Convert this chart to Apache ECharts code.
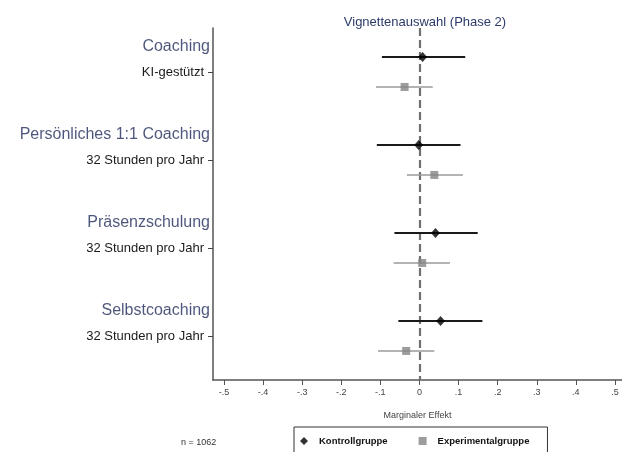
<!DOCTYPE html>
<html><head><meta charset="utf-8">
<script src="https://cdn.jsdelivr.net/npm/echarts@6/dist/echarts.min.js"></script>
<style>html,body{margin:0;padding:0;background:#fff}#c{width:622px;height:452px}</style>
</head><body><div id="c"></div>
<script>
// Groups (top to bottom)
const groups = ['Coaching', 'Persönliches 1:1 Coaching', 'Präsenzschulung', 'Selbstcoaching'];
const subLabels = ['KI-gestützt', '32 Stunden pro Jahr', '32 Stunden pro Jahr', '32 Stunden pro Jahr'];
// Kontrollgruppe: estimate, lower CI, upper CI
const kontrollEst = [0.008, -0.002, 0.041, 0.054];
const kontrollLo  = [-0.096, -0.109, -0.064, -0.054];
const kontrollHi  = [0.117, 0.105, 0.149, 0.161];
// Experimentalgruppe
const expEst = [-0.038, 0.038, 0.007, -0.034];
const expLo  = [-0.111, -0.032, -0.066, -0.106];
const expHi  = [0.034, 0.111, 0.078, 0.038];
// x ticks
const xTicks = [-0.5, -0.4, -0.3, -0.2, -0.1, 0, 0.1, 0.2, 0.3, 0.4, 0.5];
const yTicks = [1, 2, 3, 4];

const X_MIN = -0.528, X_MAX = 0.518;
const OFF = 0.17;      // vertical offset of the two groups around the tick
const HEAD_OFF = 0.284; // header offset above tick

function fmtTick(v) {
  if (v === 0) return '0';
  let s = Math.abs(v).toFixed(1).replace(/^0/, '');
  return (v < 0 ? '-' : '') + s;
}

const kData = kontrollEst.map((v, i) => [v, yTicks[i] - OFF]);
const eData = expEst.map((v, i) => [v, yTicks[i] + OFF]);
const kBars = kontrollLo.map((v, i) => [v, kontrollHi[i], yTicks[i] - OFF]);
const eBars = expLo.map((v, i) => [v, expHi[i], yTicks[i] + OFF]);
const headData = groups.map((g, i) => ({ value: [X_MIN, yTicks[i] - HEAD_OFF], name: g }));

function barRenderer(color, width) {
  return function (params, api) {
    const p1 = api.coord([api.value(0), api.value(2)]);
    const p2 = api.coord([api.value(1), api.value(2)]);
    return { type: 'line', shape: { x1: p1[0], y1: p1[1], x2: p2[0], y2: p2[1] },
      style: { stroke: color, lineWidth: width } };
  };
}

const chart = echarts.init(document.getElementById('c'), null, { renderer: 'canvas' });
chart.setOption({
  animation: false,
  backgroundColor: '#fff',
  textStyle: { fontFamily: 'Liberation Sans, Arial, sans-serif' },
  title: {
    text: 'Vignettenauswahl (Phase 2)', left: 420, top: 11, textAlign: 'center',
    textStyle: { fontSize: 13, fontWeight: 'normal', color: '#2c3a6a', fontFamily: 'Liberation Sans' }
  },
  grid: { left: 213, right: 0, top: 28, bottom: 72 },
  xAxis: {
    type: 'value', min: X_MIN, max: X_MAX,
    name: 'Marginaler Effekt', nameLocation: 'middle', nameGap: 31,
    nameTextStyle: { fontSize: 9, color: '#444' },
    axisLine: { show: true, onZero: false, lineStyle: { color: '#555', width: 1.5 } },
    axisTick: { show: true, length: 5, customValues: xTicks, lineStyle: { color: '#555' } },
    axisLabel: { customValues: xTicks, formatter: v => fmtTick(v), fontSize: 9, color: '#444', margin: 8 },
    splitLine: { show: false }
  },
  yAxis: {
    type: 'value', min: 0.5, max: 4.5, inverse: true,
    axisLine: { show: true, onZero: false, lineStyle: { color: '#555', width: 1.5 } },
    axisTick: { show: true, length: 5, customValues: yTicks, lineStyle: { color: '#444' } },
    axisLabel: { customValues: yTicks, formatter: v => subLabels[Math.round(v) - 1] || '',
      fontSize: 13, color: '#1a1a1a', margin: 9 },
    splitLine: { show: false }
  },
  legend: {
    left: 294, top: 427, orient: 'horizontal',
    borderColor: '#333', borderWidth: 1, borderRadius: 0,
    padding: [9, 18, 14, 6], itemGap: 31, itemWidth: 8, itemHeight: 8,
    textStyle: { fontSize: 9.5, fontWeight: 'bold', color: '#111', padding: [0, 0, 0, 6] },
    data: [{ name: 'Kontrollgruppe', icon: 'diamond' }, { name: 'Experimentalgruppe', icon: 'rect' }]
  },
  graphic: [{ type: 'text', left: 181, top: 438, style: { text: 'n = 1062', fontSize: 9, fill: '#333', fontFamily: 'Liberation Sans' } }],
  series: [
    { type: 'custom', name: 'kBars', data: kBars, renderItem: barRenderer('#1a1a1a', 2), z: 2, encode: { x: [0, 1], y: 2 } },
    { type: 'custom', name: 'eBars', data: eBars, renderItem: barRenderer('#9a9a9a', 1.5), z: 2, encode: { x: [0, 1], y: 2 } },
    {
      type: 'scatter', name: 'Kontrollgruppe', data: kData, symbol: 'diamond', symbolSize: [9, 10],
      itemStyle: { color: '#000' }, z: 4,
      markLine: {
        silent: true, symbol: 'none', label: { show: false }, z: 1,
        lineStyle: { color: '#707070', width: 2.2, type: [8, 4] },
        emphasis: { disabled: true },
        data: [{ xAxis: 0 }]
      }
    },
    { type: 'scatter', name: 'Experimentalgruppe', data: eData, symbol: 'rect', symbolSize: 8, itemStyle: { color: '#858585' }, z: 4 },
    {
      type: 'scatter', name: 'headers', data: headData, symbolSize: 0, silent: true,
      label: { show: true, position: 'left', distance: 3, formatter: p => p.name,
        fontSize: 16, color: '#1f2b5a', fontFamily: 'Liberation Sans' }
    }
  ]
});
</script></body></html>
